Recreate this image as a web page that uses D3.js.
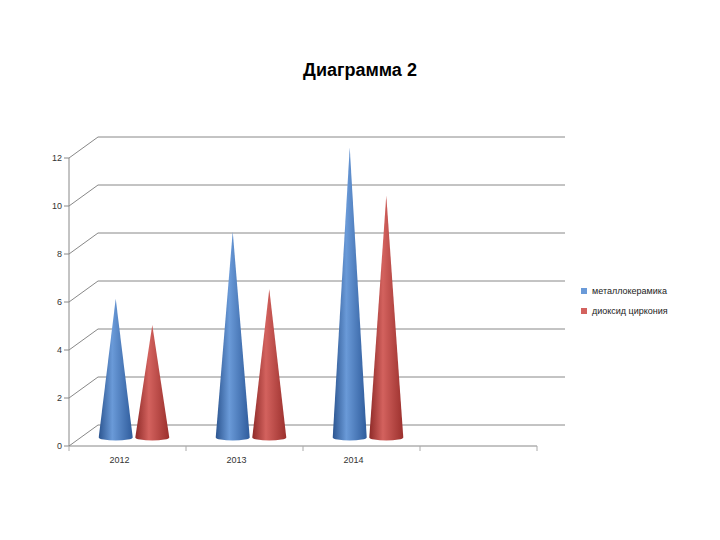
<!DOCTYPE html>
<html><head><meta charset="utf-8">
<script src="https://cdn.jsdelivr.net/npm/d3@7"></script>
<style>body{margin:0;background:#fff}</style>
</head><body>
<svg id="c" width="720" height="540"></svg>
<script>
var categories = ["2012", "2013", "2014", ""];
var seriesNames = ["металлокерамика", "диоксид циркония"];
var metal = [5.7, 8.5, 12.0];
var zirconia = [4.6, 6.1, 10.0];
var yTicks = [0, 2, 4, 6, 8, 10, 12];
var colors = [["#2c5590", "#6a9ad8", "#2f5c9c"], ["#8e2a28", "#d3625e", "#9b302d"]];

var svg = d3.select("#c");
var font = "'Liberation Sans', Arial, sans-serif";
var depthX = 29, depthY = -21;

var y = d3.scaleLinear().domain([0, 12]).range([446, 158]);
var x = d3.scaleBand().domain(categories).range([69, 537]);
var sub = d3.scaleBand().domain([0, 1]).range([0, x.bandwidth()]).paddingInner(0.0).paddingOuter(0.6);

svg.append("text").attr("x", 360).attr("y", 76).attr("text-anchor", "middle")
  .attr("font-family", font).attr("font-size", 18).attr("font-weight", "bold").text("Диаграмма 2");

var defs = svg.append("defs");
colors.forEach(function(c, i) {
  var g = defs.append("linearGradient").attr("id", "g" + i).attr("x1", 0).attr("x2", 1).attr("y1", 0).attr("y2", 0);
  g.append("stop").attr("offset", "0%").attr("stop-color", c[0]);
  g.append("stop").attr("offset", "40%").attr("stop-color", c[1]);
  g.append("stop").attr("offset", "100%").attr("stop-color", c[2]);
});

// grid: back wall lines and side wall diagonals
yTicks.forEach(function(t) {
  svg.append("line").attr("x1", 69).attr("y1", y(t)).attr("x2", 69 + depthX).attr("y2", y(t) + depthY)
    .attr("stroke", "#888").attr("stroke-width", 1);
  svg.append("line").attr("x1", 69 + depthX).attr("y1", y(t) + depthY).attr("x2", 565).attr("y2", y(t) + depthY)
    .attr("stroke", "#888").attr("stroke-width", 1);
  svg.append("line").attr("x1", 64).attr("y1", y(t)).attr("x2", 69).attr("y2", y(t)).attr("stroke", "#888");
  svg.append("text").attr("x", 62).attr("y", y(t) + 3).attr("text-anchor", "end")
    .attr("font-family", font).attr("font-size", 9).attr("fill", "#333").text(t);
});
svg.append("line").attr("x1", 69).attr("y1", y(0)).attr("x2", 69).attr("y2", y(12)).attr("stroke", "#888");
svg.append("line").attr("x1", 69).attr("y1", y(0)).attr("x2", 537).attr("y2", y(0)).attr("stroke", "#888");
categories.concat(["end"]).forEach(function(c, i) {
  var xx = 69 + i * x.step();
  svg.append("line").attr("x1", xx).attr("y1", y(0)).attr("x2", xx).attr("y2", y(0) + 5).attr("stroke", "#aaa");
});
categories.forEach(function(c) {
  svg.append("text").attr("x", x(c) + x.bandwidth() / 2 - 8).attr("y", y(0) + 17).attr("text-anchor", "middle")
    .attr("font-family", font).attr("font-size", 9).attr("fill", "#333").text(c);
});

// cones (mid-depth plane)
var mx = depthX / 2, my = depthY / 2;
[metal, zirconia].forEach(function(vals, s) {
  vals.forEach(function(v, i) {
    var cx = x(categories[i]) + sub(s) + sub.bandwidth() / 2 + mx - 8;
    var by = y(0) + my + 2, ty = y(v) + my, r = 17;
    var g = svg.append("g");
    g.append("path").attr("d", "M" + (cx - r) + "," + by + " L" + cx + "," + ty + " L" + (cx + r) + "," + by +
        " A" + r + ",3 0 0,1 " + (cx - r) + "," + by + "Z")
      .attr("fill", "url(#g" + s + ")");
  });
});

// legend
seriesNames.forEach(function(n, i) {
  var ly = 293 + i * 20;
  svg.append("rect").attr("x", 581).attr("y", ly - 5).attr("width", 6).attr("height", 6).attr("fill", colors[i][1]);
  svg.append("text").attr("x", 592).attr("y", ly + 1).attr("font-family", font).attr("font-size", 9)
    .attr("fill", "#222").text(n);
});
</script>
</body></html>
